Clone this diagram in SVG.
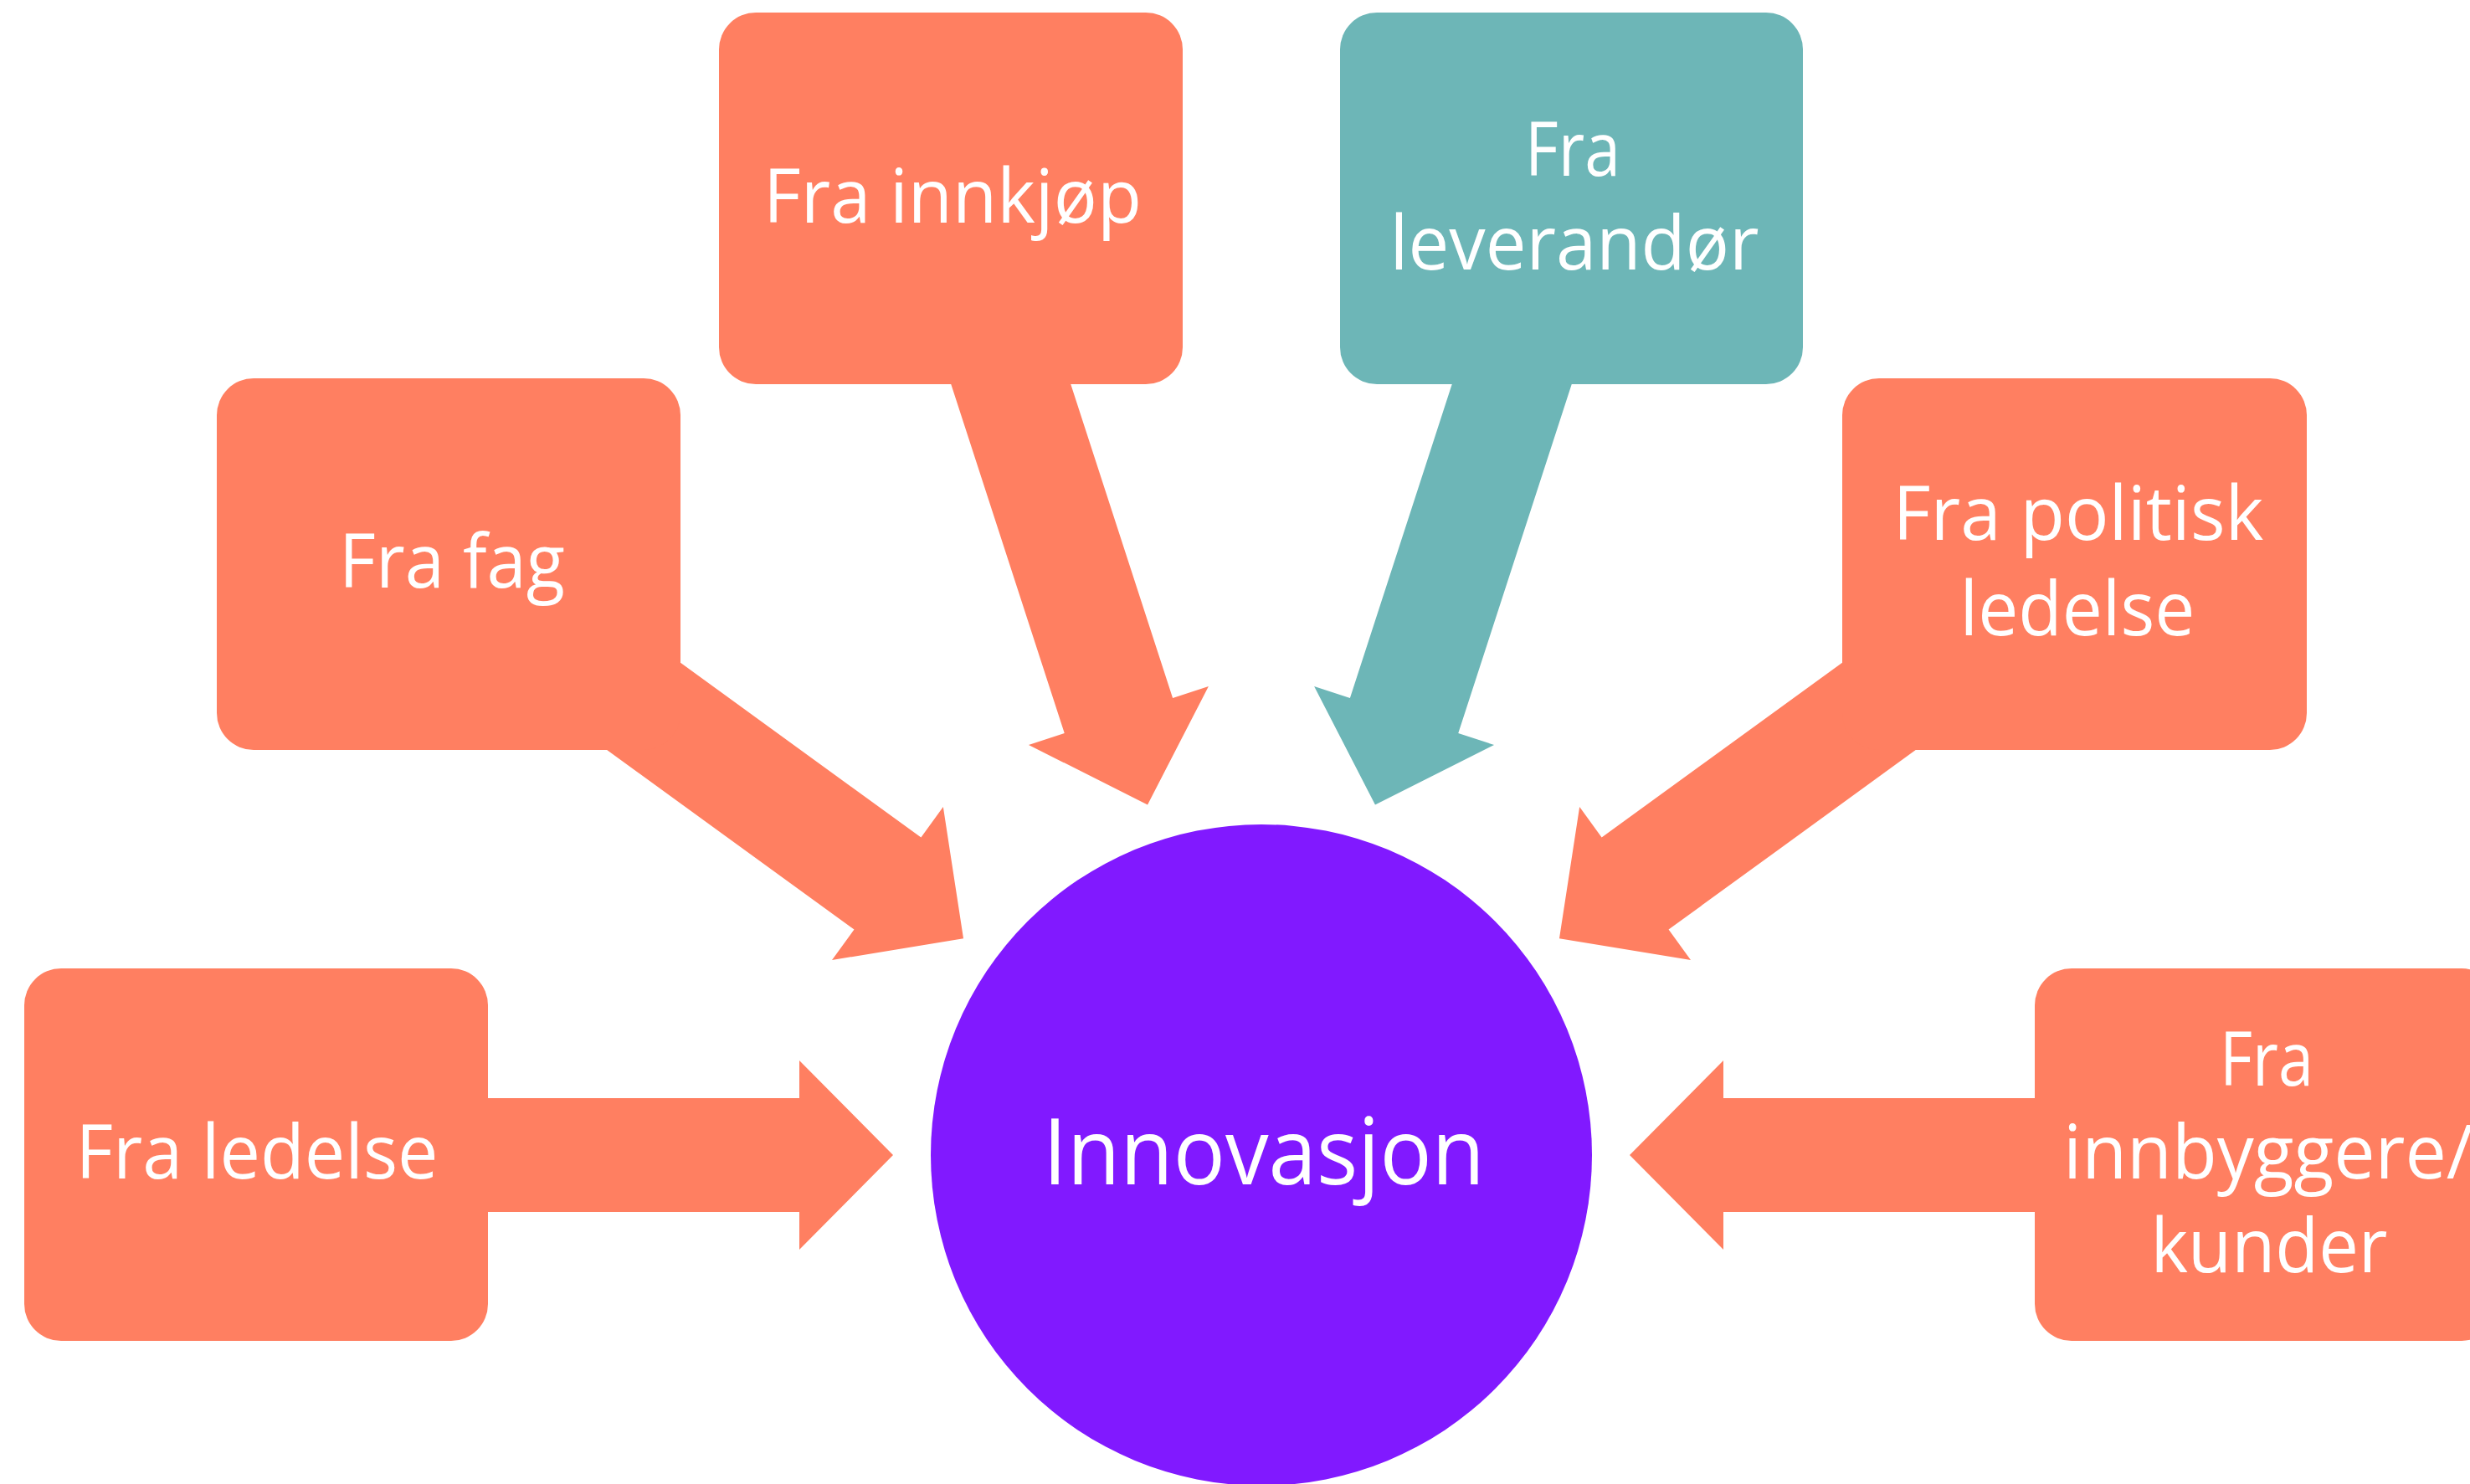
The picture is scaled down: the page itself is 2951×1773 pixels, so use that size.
<svg xmlns="http://www.w3.org/2000/svg" width="2951" height="1773" viewBox="0 0 2951 1773">
  <style>
    .coral { fill: #FF7F61; }
    .teal { fill: #6DB6B7; }
    .hub { fill: #8119FF; }
    .lbl { font-family: "Open Sans", "Noto Sans", "Liberation Sans", sans-serif; font-size: 90px; fill: #FFFFFF; text-anchor: middle; }
    .big { font-size: 109px; }
  </style>
  <defs>
    <polygon id="arrow" points="400,1312 955,1312 955,1267 1067,1380 955,1493 955,1448 400,1448"/>
  </defs>
  <rect x="0" y="0" width="2951" height="1773" fill="#FFFFFF"/>
  <g id="connectors">
    <use href="#arrow" class="coral" transform="rotate(0 1507 1380)"/>
    <use href="#arrow" class="coral" transform="rotate(36 1507 1380)"/>
    <use href="#arrow" class="coral" transform="rotate(72 1507 1380)"/>
    <use href="#arrow" class="teal" transform="rotate(108 1507 1380)"/>
    <use href="#arrow" class="coral" transform="rotate(144 1507 1380)"/>
    <use href="#arrow" class="coral" transform="rotate(180 1507 1380)"/>
  </g>
  <g id="node-innovasjon">
    <circle class="hub" cx="1507" cy="1380" r="395"/>
    <text class="lbl big" x="1510" y="1415" textLength="528" lengthAdjust="spacingAndGlyphs">Innovasjon</text>
  </g>
  <g id="node-ledelse">
    <rect class="coral" x="29" y="1157" width="554" height="445" rx="44" ry="44"/>
    <text class="lbl" x="307" y="1408" textLength="433" lengthAdjust="spacingAndGlyphs">Fra ledelse</text>
  </g>
  <g id="node-fag">
    <rect class="coral" x="259" y="452" width="554" height="444" rx="44" ry="44"/>
    <text class="lbl" x="540" y="702" textLength="270" lengthAdjust="spacingAndGlyphs">Fra fag</text>
  </g>
  <g id="node-innkjop">
    <rect class="coral" x="859" y="15" width="554" height="444" rx="44" ry="44"/>
    <text class="lbl" x="1138" y="266" textLength="452" lengthAdjust="spacingAndGlyphs">Fra innkjøp</text>
  </g>
  <g id="node-leverandor">
    <rect class="teal" x="1601" y="15" width="553" height="444" rx="44" ry="44"/>
    <text class="lbl" x="1879" y="210" textLength="114" lengthAdjust="spacingAndGlyphs">Fra</text>
    <text class="lbl" x="1881" y="322" textLength="441" lengthAdjust="spacingAndGlyphs">leverandør</text>
  </g>
  <g id="node-politisk">
    <rect class="coral" x="2201" y="452" width="555" height="444" rx="44" ry="44"/>
    <text class="lbl" x="2483" y="645" textLength="443" lengthAdjust="spacingAndGlyphs">Fra politisk</text>
    <text class="lbl" x="2482" y="759" textLength="281" lengthAdjust="spacingAndGlyphs">ledelse</text>
  </g>
  <g id="node-innbyggere">
    <rect class="coral" x="2431" y="1157" width="554" height="445" rx="44" ry="44"/>
    <text class="lbl" x="2708" y="1297" textLength="112" lengthAdjust="spacingAndGlyphs">Fra</text>
    <text class="lbl" x="2710" y="1408" textLength="490" lengthAdjust="spacingAndGlyphs">innbyggere/</text>
    <text class="lbl" x="2711" y="1520" textLength="283" lengthAdjust="spacingAndGlyphs">kunder</text>
  </g>
</svg>
